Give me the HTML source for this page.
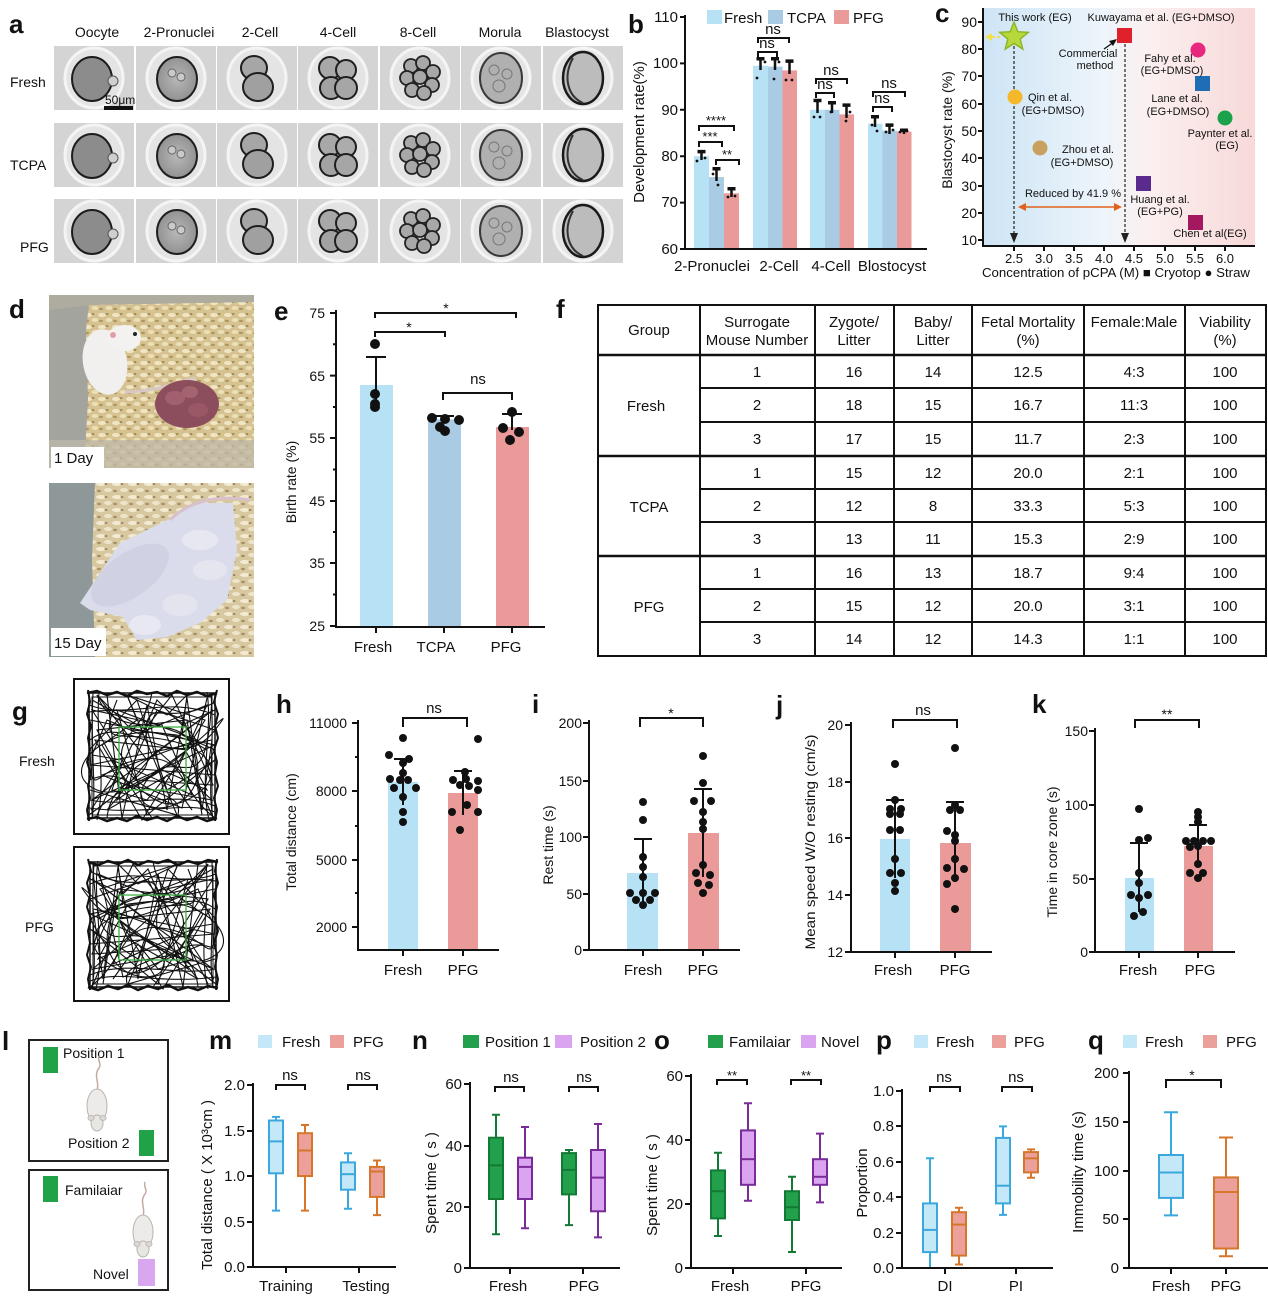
<!DOCTYPE html>
<html><head><meta charset="utf-8">
<style>
html,body{margin:0;padding:0;background:#fff;}
svg{display:block;}
text{font-family:"Liberation Sans",Arial,sans-serif;fill:#111;}
.L{font-weight:bold;font-size:26px;}
.s14{font-size:14px;}
.s15{font-size:15px;}
.s13{font-size:13px;}
.s11{font-size:11px;fill:#333;}
.tb{font-size:15px;fill:#222;}
.ax{stroke:#111;stroke-width:2;fill:none;}
.br{stroke:#111;stroke-width:2;fill:none;}
</style></head><body>
<svg width="1268" height="1297" viewBox="0 0 1268 1297" xmlns="http://www.w3.org/2000/svg" xmlns:xlink="http://www.w3.org/1999/xlink">
<defs>
 <linearGradient id="cbg" x1="0" y1="0" x2="1" y2="0">
  <stop offset="0" stop-color="#cde4f5"/>
  <stop offset="0.45" stop-color="#eef5fb"/>
  <stop offset="0.6" stop-color="#fbf0f0"/>
  <stop offset="1" stop-color="#f8d9d9"/>
 </linearGradient>
 <radialGradient id="cellg" cx="0.5" cy="0.5" r="0.5">
  <stop offset="0" stop-color="#b8b8b8"/>
  <stop offset="1" stop-color="#929292"/>
 </radialGradient>
 <pattern id="shav" width="14" height="12" patternUnits="userSpaceOnUse">
  <rect width="14" height="12" fill="#d6c290"/>
  <ellipse cx="4" cy="3" rx="4" ry="2" fill="#f0e6c4"/>
  <ellipse cx="11" cy="8" rx="3.5" ry="2" fill="#ebdfb6"/>
  <ellipse cx="9" cy="2" rx="1.5" ry="1" fill="#a08a58"/>
  <ellipse cx="3" cy="9" rx="2" ry="1.2" fill="#ae9660"/>
 </pattern>
 <pattern id="shav2" width="16" height="13" patternUnits="userSpaceOnUse">
  <rect width="16" height="13" fill="#d8c8a0"/>
  <ellipse cx="5" cy="3" rx="5" ry="2" fill="#f3ead2"/>
  <ellipse cx="12" cy="9" rx="4" ry="2" fill="#eee4ca"/>
  <ellipse cx="10" cy="3" rx="1.5" ry="1" fill="#9a8660"/>
  <ellipse cx="3" cy="10" rx="2" ry="1.2" fill="#a89068"/>
 </pattern>
 <g id="tile"><rect width="80" height="64" fill="#d4d4d4"/><ellipse cx="40" cy="32" rx="29" ry="30" fill="#e4e4e4" stroke="#f4f4f4" stroke-width="3"/></g>
 <g id="e_oo"><use href="#tile"/><ellipse cx="38" cy="33" rx="20" ry="22" fill="#8c8c8c" stroke="#1c1c1c" stroke-width="2"/><circle cx="59" cy="35" r="5" fill="#cfcfcf" stroke="#555"/></g>
 <g id="e_pn"><use href="#tile"/><ellipse cx="41" cy="33" rx="20" ry="22" fill="url(#cellg)" stroke="#1e1e1e" stroke-width="2"/><circle cx="36" cy="27" r="4" fill="#cacaca" stroke="#666"/><circle cx="45" cy="31" r="4" fill="#cacaca" stroke="#666"/></g>
 <g id="e_2c"><use href="#tile"/><ellipse cx="37" cy="22" rx="13" ry="12" fill="#a6a6a6" stroke="#1e1e1e" stroke-width="2"/><ellipse cx="41" cy="41" rx="15" ry="14" fill="#a0a0a0" stroke="#1e1e1e" stroke-width="2"/></g>
 <g id="e_4c"><use href="#tile"/><circle cx="32" cy="22" r="11" fill="#a8a8a8" stroke="#1e1e1e" stroke-width="2"/><circle cx="48" cy="24" r="10" fill="#acacac" stroke="#1e1e1e" stroke-width="2"/><circle cx="33" cy="42" r="11" fill="#a2a2a2" stroke="#1e1e1e" stroke-width="2"/><circle cx="48" cy="42" r="11" fill="#a6a6a6" stroke="#1e1e1e" stroke-width="2"/></g>
 <g id="e_8c"><use href="#tile"/><circle cx="31" cy="20" r="7" fill="#a8a8a8" stroke="#222" stroke-width="1.8"/><circle cx="43" cy="17" r="7" fill="#a8a8a8" stroke="#222" stroke-width="1.8"/><circle cx="53" cy="26" r="7" fill="#a8a8a8" stroke="#222" stroke-width="1.8"/><circle cx="27" cy="32" r="7" fill="#a8a8a8" stroke="#222" stroke-width="1.8"/><circle cx="40" cy="31" r="7" fill="#a8a8a8" stroke="#222" stroke-width="1.8"/><circle cx="52" cy="39" r="7" fill="#a8a8a8" stroke="#222" stroke-width="1.8"/><circle cx="32" cy="44" r="7" fill="#a8a8a8" stroke="#222" stroke-width="1.8"/><circle cx="44" cy="47" r="7" fill="#a8a8a8" stroke="#222" stroke-width="1.8"/></g>
 <g id="e_mo"><use href="#tile"/><ellipse cx="40" cy="32" rx="21" ry="25" fill="#b0b0b0" stroke="#3a3a3a" stroke-width="2"/><circle cx="33" cy="24" r="5" fill="none" stroke="#777"/><circle cx="46" cy="28" r="5" fill="none" stroke="#777"/><circle cx="38" cy="40" r="6" fill="none" stroke="#777"/></g>
 <g id="e_bl"><use href="#tile"/><ellipse cx="40" cy="32" rx="20" ry="26" fill="#bcbcbc" stroke="#1a1a1a" stroke-width="2.5"/><path d="M30,12 C20,30 24,50 40,57" fill="none" stroke="#333" stroke-width="2"/></g>
 <g id="trk" fill="none" stroke="#111" stroke-width="1.1">
  <path d="M5,10 L60,40 L120,15 L90,80 L20,120 L70,60 L125,110 L40,95 L10,40 L100,30 L115,125"/>
  <path d="M2,60 L50,10 L80,100 L128,70 L60,125 L30,20 L110,50 L15,85 L95,118 L120,8"/>
  <path d="M10,125 L45,55 L85,5 L126,95 L50,90 L5,20 L75,35 L105,105 L25,70 L65,128"/>
  <path d="M128,40 L70,20 L30,110 L100,60 L8,50 L55,130 L118,30 L40,5 L90,125 L3,100"/>
  <path d="M20,5 L35,128 L60,15 L80,120 L100,8 L115,120 L125,50 L3,75 L128,85"/>
  <path d="M3,30 L128,55 L5,110 L126,20 L60,70 L10,5 L45,40 L90,45 L120,100 L75,80 L35,100 L2,125"/>
  <path d="M3,50 C40,20 90,90 128,40 S60,120 10,100 S40,10 120,60"/>
  <path d="M10,5 C30,60 100,10 110,70 S30,130 60,90 S120,125 125,5"/>
  <path d="M2,90 C50,70 60,130 100,110 S130,60 80,50 S10,60 30,10"/>
  <path d="M20,128 C25,80 70,100 60,50 S110,20 125,90"/>
  <path d="M128,128 C90,100 100,60 50,70 S5,130 2,20"/>
  <path d="M65,2 C60,40 20,50 40,80 S100,100 90,128"/>
  <path d="M4,120 L30,80 L15,55 L50,30 L40,5 L80,25 L100,5 L95,45 L128,60 L110,90 L126,128"/>
  <path d="M128,20 L95,35 L70,10 L55,45 L20,30 L5,65 L35,70 L25,100 L60,110 L80,85 L105,120"/>
  <path d="M2,15 C40,30 80,5 128,25 M2,22 C50,15 90,35 128,12 M3,110 C40,118 90,100 128,116 M2,118 C60,126 100,110 128,122"/>
  <path d="M12,2 C8,50 20,90 10,130 M120,2 C126,40 112,90 122,130 M6,3 C3,60 10,100 5,128 M124,4 C128,60 120,100 126,128"/>
  <path d="M0,3 L10,1 L20,5 L30,2 L40,6 L50,1 L60,4 L70,2 L80,6 L90,1 L100,5 L110,2 L120,6 L130,3" stroke-width="2.5"/>
  <path d="M0,129 L10,127 L20,131 L30,128 L40,131 L50,126 L60,130 L70,127 L80,131 L90,126 L100,130 L110,127 L120,131 L130,128" stroke-width="2.5"/>
  <path d="M1,0 L3,12 L0,24 L4,36 L1,48 L3,60 L0,72 L4,84 L1,96 L3,108 L0,120 L2,131" stroke-width="2"/>
  <path d="M130,0 L127,12 L131,24 L128,36 L131,48 L127,60 L130,72 L128,84 L131,96 L127,108 L130,120 L128,131" stroke-width="2"/>
  <rect x="2" y="3" width="126" height="125" stroke-width="1.5"/>
  <rect x="5" y="7" width="120" height="118" stroke-width="1"/>
 </g>
 <g id="mouse">
  <path d="M0,-16 C3,-24 -4,-30 2,-38 C5,-42 0,-46 2,-50" fill="none" stroke="#c4aaa4" stroke-width="1.5"/>
  <ellipse cx="0" cy="0" rx="10" ry="17" fill="#ecebe9" stroke="#b8b4ae"/>
  <ellipse cx="0" cy="17" rx="6" ry="8" fill="#e8e6e3" stroke="#b8b4ae"/>
  <ellipse cx="-6" cy="12" rx="3" ry="2.5" fill="#e2d6d2" stroke="#bbb"/>
  <ellipse cx="6" cy="12" rx="3" ry="2.5" fill="#e2d6d2" stroke="#bbb"/>
 </g>
</defs>

<!-- ============ Panel a ============ -->
<text x="9" y="33" class="L">a</text>
<g class="s14" text-anchor="middle">
 <text x="97" y="37">Oocyte</text><text x="179" y="37">2-Pronuclei</text><text x="260" y="37">2-Cell</text>
 <text x="338" y="37">4-Cell</text><text x="418" y="37">8-Cell</text><text x="500" y="37">Morula</text><text x="577" y="37">Blastocyst</text>
</g>
<text x="10" y="87" class="s14">Fresh</text>
<text x="10" y="170" class="s14">TCPA</text>
<text x="20" y="252" class="s14">PFG</text>
<g>
 <use href="#e_oo" x="54" y="46"/><use href="#e_pn" x="136" y="46"/><use href="#e_2c" x="217" y="46"/><use href="#e_4c" x="298" y="46"/><use href="#e_8c" x="380" y="46"/><use href="#e_mo" x="461" y="46"/><use href="#e_bl" x="543" y="46"/>
 <use href="#e_oo" x="54" y="123"/><use href="#e_pn" x="136" y="123"/><use href="#e_2c" x="217" y="123"/><use href="#e_4c" x="298" y="123"/><use href="#e_8c" x="380" y="123"/><use href="#e_mo" x="461" y="123"/><use href="#e_bl" x="543" y="123"/>
 <use href="#e_oo" x="54" y="199"/><use href="#e_pn" x="136" y="199"/><use href="#e_2c" x="217" y="199"/><use href="#e_4c" x="298" y="199"/><use href="#e_8c" x="380" y="199"/><use href="#e_mo" x="461" y="199"/><use href="#e_bl" x="543" y="199"/>
</g>
<rect x="104" y="106" width="29" height="4" fill="#111"/>
<text x="105" y="104" font-size="12">50μm</text>

<!-- ============ Panel b ============ -->
<text x="628" y="33" class="L">b</text>
<rect x="707" y="10" width="15" height="14" fill="#b7e1f5"/><text x="724" y="23" class="s15">Fresh</text>
<rect x="768" y="10" width="15" height="14" fill="#a9cbe4"/><text x="787" y="23" class="s15">TCPA</text>
<rect x="834" y="10" width="15" height="14" fill="#eb9a9a"/><text x="853" y="23" class="s15">PFG</text>
<g>
 <rect x="694" y="156.2" width="15" height="92.8" fill="#b7e1f5"/>
 <rect x="709" y="177.1" width="15" height="71.9" fill="#a9cbe4"/>
 <rect x="724" y="193.3" width="15" height="55.7" fill="#eb9a9a"/>
 <rect x="753" y="65.7" width="15" height="183.3" fill="#b7e1f5"/>
 <rect x="768" y="66.6" width="14.5" height="182.4" fill="#a9cbe4"/>
 <rect x="782.5" y="70.4" width="14.5" height="178.6" fill="#eb9a9a"/>
 <rect x="810" y="109.8" width="15" height="139.2" fill="#b7e1f5"/>
 <rect x="825" y="109.8" width="14.5" height="139.2" fill="#a9cbe4"/>
 <rect x="839.5" y="114.4" width="14.5" height="134.6" fill="#eb9a9a"/>
 <rect x="868" y="123.7" width="14.5" height="125.3" fill="#b7e1f5"/>
 <rect x="882.5" y="130.7" width="14.5" height="118.3" fill="#a9cbe4"/>
 <rect x="897" y="131.6" width="14.5" height="117.4" fill="#eb9a9a"/>
</g>
<g stroke="#111" fill="none">
 <path d="M701.5,160V151.6M716.5,181V168.7M731.5,197V188.7M760.5,70V58.8M775,70V58.8M789.5,74V61.1M817.5,113V100.5M832,113V102.8M846.5,118V105.1M875,127V116.7M889.5,134V125.1M904,134V130.2" stroke-width="2.5"/>
 <path d="M697.5,151.6h8M712.5,168.7h8M727.5,188.7h8M756.5,58.8h8M771,58.8h8M785.5,61.1h8M813.5,100.5h8M828,102.8h8M842.5,105.1h8M871,116.7h8M885.5,125.1h8M900,130.2h8" stroke-width="3.5"/>
</g>
<g fill="#111">
 <circle cx="697" cy="161" r="1.4"/><circle cx="705" cy="158" r="1.4"/><circle cx="713" cy="174" r="1.4"/><circle cx="718" cy="185" r="1.4"/><circle cx="728" cy="197" r="1.4"/><circle cx="735" cy="196" r="1.4"/>
 <circle cx="757" cy="78" r="1.4"/><circle cx="765" cy="62" r="1.4"/><circle cx="774" cy="79" r="1.4"/><circle cx="779" cy="62" r="1.4"/><circle cx="786" cy="80" r="1.4"/><circle cx="792" cy="80" r="1.4"/>
 <circle cx="814" cy="117" r="1.4"/><circle cx="820" cy="117" r="1.4"/><circle cx="831" cy="112" r="1.4"/><circle cx="846" cy="121" r="1.4"/><circle cx="850" cy="112" r="1.4"/>
 <circle cx="872" cy="125" r="1.4"/><circle cx="877" cy="131" r="1.4"/><circle cx="886" cy="132" r="1.4"/><circle cx="893" cy="130" r="1.4"/><circle cx="900" cy="132" r="1.4"/><circle cx="907" cy="131" r="1.4"/>
</g>
<g class="br">
 <path d="M699,131V126H734V131"/><path d="M699,147V142H722V147"/><path d="M716,165V160H739V165"/>
 <path d="M758,43V38H789V43"/><path d="M758,57V52H777V57"/>
 <path d="M816,84V79H847V84"/><path d="M816,98V93H834V98"/>
 <path d="M873,97V92H905V97"/><path d="M873,112V107H892V112"/>
</g>
<g class="s13" text-anchor="middle">
 <text x="716" y="125">****</text><text x="710" y="141">***</text><text x="727" y="159">**</text>
</g>
<g class="s15" text-anchor="middle">
 <text x="773" y="34">ns</text><text x="767" y="48">ns</text>
 <text x="831" y="75">ns</text><text x="825" y="89">ns</text>
 <text x="889" y="88">ns</text><text x="882" y="103">ns</text>
</g>
<path class="ax" d="M685,15V249H927"/>
<path class="ax" d="M680,17H685M680,63.4H685M680,109.8H685M680,156.2H685M680,202.6H685M680,249H685"/>
<g class="s15" text-anchor="end">
 <text x="678" y="22">110</text><text x="678" y="68">100</text><text x="678" y="115">90</text><text x="678" y="161">80</text><text x="678" y="207">70</text><text x="678" y="254">60</text>
</g>
<g class="s15" text-anchor="middle">
 <text x="712" y="271">2-Pronuclei</text><text x="779" y="271">2-Cell</text><text x="831" y="271">4-Cell</text><text x="892" y="271">Blostocyst</text>
</g>
<text transform="translate(644,132) rotate(-90)" class="s15" text-anchor="middle">Development rate(%)</text>

<!-- ============ Panel c ============ -->
<text x="935" y="22" class="L">c</text>
<rect x="983" y="8" width="272" height="238" fill="url(#cbg)"/>
<path class="ax" d="M983,8V246H1255"/>
<path class="ax" stroke-width="1.5" d="M978,22H983M978,49H983M978,76H983M978,104H983M978,131H983M978,158H983M978,186H983M978,213H983M978,240H983"/>
<path class="ax" stroke-width="1.5" d="M1014,246V251M1044,246V251M1074,246V251M1104,246V251M1134,246V251M1165,246V251M1195,246V251M1225,246V251"/>
<g class="s14" text-anchor="end">
 <text x="977" y="27">90</text><text x="977" y="54">80</text><text x="977" y="81">70</text><text x="977" y="109">60</text><text x="977" y="136">50</text><text x="977" y="163">40</text><text x="977" y="191">30</text><text x="977" y="218">20</text><text x="977" y="245">10</text>
</g>
<g class="s13" text-anchor="middle">
 <text x="1014" y="263">2.5</text><text x="1044" y="263">3.0</text><text x="1074" y="263">3.5</text><text x="1104" y="263">4.0</text><text x="1134" y="263">4.5</text><text x="1165" y="263">5.0</text><text x="1195" y="263">5.5</text><text x="1225" y="263">6.0</text>
</g>
<text x="982" y="277" class="s13" textLength="268" lengthAdjust="spacingAndGlyphs">Concentration of pCPA (M) ■ Cryotop ● Straw</text>
<text transform="translate(952,130) rotate(-90)" class="s14" text-anchor="middle">Blastocyst rate (%)</text>
<g stroke="#222" stroke-width="1.2" stroke-dasharray="3,2" fill="none">
 <path d="M1014,46V236"/><path d="M1125,44V236"/>
</g>
<polygon points="1010,233 1018,233 1014,243" fill="#222"/>
<polygon points="1121,233 1129,233 1125,243" fill="#222"/>
<path d="M1000,37H990" stroke="#f0e050" stroke-width="2" stroke-dasharray="3,2"/>
<polygon points="985,37 992,33 992,41" fill="#f0e050"/>
<polygon points="1014,22 1017.8,31.7 1028.3,32.4 1020.2,39 1022.8,49.1 1014,43.5 1005.2,49.1 1007.8,39 999.7,32.4 1010.2,31.7" fill="#b7d83a" stroke="#8db52a" stroke-width="1.5"/>
<rect x="1117" y="28" width="15" height="15" fill="#e0202a"/>
<path d="M1104,49L1114,42" stroke="#111" stroke-width="1.3"/><polygon points="1117,39 1109,41 1113,46" fill="#111"/>
<circle cx="1198" cy="50" r="7.5" fill="#e8277f"/>
<rect x="1195" y="76" width="15" height="15" fill="#1f6db5"/>
<circle cx="1225" cy="118" r="7.5" fill="#1aa34a"/>
<circle cx="1015" cy="97" r="7.5" fill="#f5b82a"/>
<circle cx="1040" cy="148" r="7.5" fill="#c8a060"/>
<rect x="1136" y="176" width="15" height="15" fill="#5b2a8f"/>
<rect x="1188" y="215" width="15" height="15" fill="#a3185f"/>
<path d="M1024,207H1116" stroke="#e0621c" stroke-width="1.6"/>
<polygon points="1018,207 1026,203 1026,211" fill="#e0621c"/><polygon points="1122,207 1114,203 1114,211" fill="#e0621c"/>
<g class="s11" text-anchor="middle">
 <text x="1035" y="21">This work (EG)</text>
 <text x="1161" y="21">Kuwayama et al. (EG+DMSO)</text>
 <text x="1088" y="57">Commercial</text><text x="1095" y="69">method</text>
 <text x="1170" y="62">Fahy et al.</text><text x="1172" y="74">(EG+DMSO)</text>
 <text x="1177" y="102">Lane et al.</text><text x="1178" y="115">(EG+DMSO)</text>
 <text x="1220" y="137">Paynter et al.</text><text x="1227" y="149">(EG)</text>
 <text x="1050" y="101">Qin et al.</text><text x="1053" y="114">(EG+DMSO)</text>
 <text x="1088" y="153">Zhou et al.</text><text x="1082" y="166">(EG+DMSO)</text>
 <text x="1160" y="203">Huang et al.</text><text x="1160" y="215">(EG+PG)</text>
 <text x="1210" y="237">Chen et al(EG)</text>
 <text x="1073" y="197">Reduced by 41.9 %</text>
</g>

<!-- ============ Panel d ============ -->
<text x="9" y="318" class="L">d</text>
<g>
 <rect x="49" y="295" width="205" height="173" fill="url(#shav)"/>
 <polygon points="49,295 90,295 86,330 88,400 84,468 49,468" fill="#a3a49e"/>
 <rect x="49" y="440" width="205" height="28" fill="#bdb8a8" opacity="0.75"/>
 <polygon points="49,295 254,295 254,302 90,305 49,310" fill="#aeab9f"/>
 <ellipse cx="105" cy="362" rx="22" ry="33" fill="#f1f0ee" transform="rotate(-10 105 362)"/>
 <ellipse cx="124" cy="338" rx="17" ry="13" fill="#f3f2f0"/>
 <circle cx="113" cy="335" r="3" fill="#e0a0a8"/><circle cx="135" cy="334" r="2" fill="#222"/>
 <path d="M125,392 C150,392 170,385 195,378" stroke="#d8c8c8" stroke-width="3" fill="none"/>
 <ellipse cx="187" cy="404" rx="32" ry="24" fill="#8c4e5c"/>
 <ellipse cx="175" cy="398" rx="10" ry="7" fill="#a2606e"/><ellipse cx="198" cy="410" rx="10" ry="7" fill="#9a5866"/><ellipse cx="190" cy="392" rx="8" ry="6" fill="#a4646f"/>
</g>
<g>
 <rect x="49" y="483" width="205" height="174" fill="url(#shav2)"/>
 <polygon points="49,483 95,483 92,560 95,657 49,657" fill="#8e9898"/>
 <polygon points="80,603 120,543 167,520 197,503 233,503 237,550 227,600 200,623 167,637 137,640 123,617 90,610" fill="#dadcec"/>
 <ellipse cx="130" cy="575" rx="45" ry="22" fill="#d0d2e4" transform="rotate(-35 130 575)"/>
 <ellipse cx="200" cy="540" rx="18" ry="10" fill="#e6e7f1"/><ellipse cx="210" cy="570" rx="17" ry="10" fill="#e4e5ef"/><ellipse cx="180" cy="605" rx="18" ry="11" fill="#e3e4ee"/><ellipse cx="145" cy="625" rx="16" ry="10" fill="#e7e8f1"/>
 <path d="M170,520 C190,500 220,495 250,500" stroke="#d8c0cc" stroke-width="3" fill="none"/>
</g>
<rect x="51" y="447" width="53" height="21" fill="#fff"/>
<text x="54" y="463" class="s15">1 Day</text>
<rect x="51" y="628" width="55" height="28" fill="#fff"/>
<text x="54" y="648" class="s15">15 Day</text>

<!-- ============ Panel e ============ -->
<text x="274" y="320" class="L">e</text>
<rect x="360" y="385" width="33" height="241" fill="#b7e1f5"/>
<rect x="428" y="419.4" width="33" height="206.6" fill="#a9cbe4"/>
<rect x="496" y="427" width="33" height="199" fill="#eb9a9a"/>
<g class="br">
 <path d="M376,400V357M366,357H386"/>
 <path d="M444,422V416M434,416H454"/>
 <path d="M512,430V414M502,414H522"/>
 <path d="M375,318V313H516V318"/><path d="M375,337V332H445V337"/><path d="M443,400V393H512V400"/>
</g>
<g fill="#111">
 <circle cx="375" cy="344" r="5"/><circle cx="375" cy="394" r="5"/><circle cx="375" cy="404" r="5"/><circle cx="375" cy="407" r="5"/>
 <circle cx="432" cy="418" r="5"/><circle cx="445" cy="419" r="5"/><circle cx="459" cy="420" r="5"/><circle cx="440" cy="427" r="5"/><circle cx="445" cy="431" r="5"/>
 <circle cx="512" cy="412" r="5"/><circle cx="503" cy="428" r="5"/><circle cx="519" cy="432" r="5"/><circle cx="510" cy="440" r="5"/>
</g>
<text x="446" y="313" class="s14" text-anchor="middle">*</text>
<text x="409" y="332" class="s14" text-anchor="middle">*</text>
<text x="478" y="384" class="s15" text-anchor="middle">ns</text>
<path class="ax" d="M336,310V627H545"/>
<path class="ax" d="M330,313H336M330,375.6H336M330,438H336M330,501H336M330,563H336M330,626H336M333,344.3H336M333,407H336M333,469.5H336M333,532H336M333,594.5H336M376,627V633M444,627V633M512,627V633"/>
<g class="s14" text-anchor="end">
 <text x="325" y="318">75</text><text x="325" y="381">65</text><text x="325" y="443">55</text><text x="325" y="506">45</text><text x="325" y="568">35</text><text x="325" y="631">25</text>
</g>
<g class="s15" text-anchor="middle"><text x="373" y="652">Fresh</text><text x="436" y="652">TCPA</text><text x="506" y="652">PFG</text></g>
<text transform="translate(296,482) rotate(-90)" class="s14" text-anchor="middle">Birth rate (%)</text>

<!-- ============ Panel f ============ -->
<text x="556" y="318" class="L">f</text>
<g stroke="#111" fill="none">
 <rect x="598" y="305" width="668" height="351" stroke-width="2"/>
 <path d="M598,355H1266M598,456H1266M598,556H1266" stroke-width="2.5"/>
 <path d="M700,388H1266M700,422H1266M700,489H1266M700,522H1266M700,589H1266M700,622H1266" stroke-width="2"/>
 <path d="M700,305V656M815,305V656M894,305V656M972,305V656M1084,305V656M1185,305V656" stroke-width="2"/>
</g>
<g class="tb" text-anchor="middle">
 <text x="649" y="335">Group</text>
 <text x="757" y="327">Surrogate</text><text x="757" y="345">Mouse Number</text>
 <text x="854" y="327">Zygote/</text><text x="854" y="345">Litter</text>
 <text x="933" y="327">Baby/</text><text x="933" y="345">Litter</text>
 <text x="1028" y="327">Fetal Mortality</text><text x="1028" y="345">(%)</text>
 <text x="1134" y="327">Female:Male</text>
 <text x="1225" y="327">Viability</text><text x="1225" y="345">(%)</text>
 <text x="646" y="411">Fresh</text><text x="649" y="512">TCPA</text><text x="649" y="612">PFG</text>
 <text x="757" y="377">1</text><text x="854" y="377">16</text><text x="933" y="377">14</text><text x="1028" y="377">12.5</text><text x="1134" y="377">4:3</text><text x="1225" y="377">100</text>
 <text x="757" y="410">2</text><text x="854" y="410">18</text><text x="933" y="410">15</text><text x="1028" y="410">16.7</text><text x="1134" y="410">11:3</text><text x="1225" y="410">100</text>
 <text x="757" y="444">3</text><text x="854" y="444">17</text><text x="933" y="444">15</text><text x="1028" y="444">11.7</text><text x="1134" y="444">2:3</text><text x="1225" y="444">100</text>
 <text x="757" y="478">1</text><text x="854" y="478">15</text><text x="933" y="478">12</text><text x="1028" y="478">20.0</text><text x="1134" y="478">2:1</text><text x="1225" y="478">100</text>
 <text x="757" y="511">2</text><text x="854" y="511">12</text><text x="933" y="511">8</text><text x="1028" y="511">33.3</text><text x="1134" y="511">5:3</text><text x="1225" y="511">100</text>
 <text x="757" y="544">3</text><text x="854" y="544">13</text><text x="933" y="544">11</text><text x="1028" y="544">15.3</text><text x="1134" y="544">2:9</text><text x="1225" y="544">100</text>
 <text x="757" y="578">1</text><text x="854" y="578">16</text><text x="933" y="578">13</text><text x="1028" y="578">18.7</text><text x="1134" y="578">9:4</text><text x="1225" y="578">100</text>
 <text x="757" y="611">2</text><text x="854" y="611">15</text><text x="933" y="611">12</text><text x="1028" y="611">20.0</text><text x="1134" y="611">3:1</text><text x="1225" y="611">100</text>
 <text x="757" y="644">3</text><text x="854" y="644">14</text><text x="933" y="644">12</text><text x="1028" y="644">14.3</text><text x="1134" y="644">1:1</text><text x="1225" y="644">100</text>
</g>

<!-- ============ Panel g ============ -->
<text x="12" y="720" class="L">g</text>
<rect x="74" y="679" width="155" height="155" fill="#fff" stroke="#111" stroke-width="2"/>
<rect x="74" y="847" width="155" height="154" fill="#fff" stroke="#111" stroke-width="2"/>
<use href="#trk" transform="translate(87,690)"/>
<use href="#trk" transform="translate(218,859) scale(-1,1)"/>
<rect x="119" y="727" width="67" height="63" fill="none" stroke="#3cb043" stroke-width="1.3"/>
<rect x="119" y="895" width="67" height="65" fill="none" stroke="#3cb043" stroke-width="1.3"/>
<text x="19" y="766" class="s14">Fresh</text>
<text x="25" y="932" class="s14">PFG</text>

<!-- ============ Panel h ============ -->
<text x="276" y="713" class="L">h</text>
<rect x="388" y="782" width="30" height="168" fill="#b7e1f5"/>
<rect x="448" y="793" width="30" height="157" fill="#eb9a9a"/>
<g class="br"><path d="M403,805V759M394,759H412"/><path d="M463,815V771M454,771H472"/><path d="M403,727V718H467V727"/></g>
<g fill="#111">
 <circle cx="403" cy="738" r="4"/><circle cx="389" cy="755" r="4"/><circle cx="409" cy="759" r="4"/><circle cx="403" cy="763" r="4"/><circle cx="403" cy="773" r="4"/><circle cx="390" cy="779" r="4"/><circle cx="400" cy="780" r="4"/><circle cx="408" cy="780" r="4"/><circle cx="416" cy="788" r="4"/><circle cx="394" cy="788" r="4"/><circle cx="403" cy="797" r="4"/><circle cx="403" cy="812" r="4"/><circle cx="403" cy="822" r="4"/>
 <circle cx="478" cy="739" r="4"/><circle cx="465" cy="772" r="4"/><circle cx="453" cy="780" r="4"/><circle cx="466" cy="779" r="4"/><circle cx="478" cy="781" r="4"/><circle cx="460" cy="785" r="4"/><circle cx="469" cy="786" r="4"/><circle cx="478" cy="790" r="4"/><circle cx="467" cy="805" r="4"/><circle cx="452" cy="812" r="4"/><circle cx="478" cy="812" r="4"/><circle cx="460" cy="830" r="4"/>
</g>
<text x="434" y="713" class="s15" text-anchor="middle">ns</text>
<path class="ax" d="M358,720V950H499"/>
<path class="ax" d="M352,723H358M352,791H358M352,860H358M352,927H358M355,757H358M355,826H358M355,893H358M403,950V956M463,950V956"/>
<g class="s14" text-anchor="end"><text x="347" y="728">11000</text><text x="347" y="796">8000</text><text x="347" y="865">5000</text><text x="347" y="932">2000</text></g>
<g class="s15" text-anchor="middle"><text x="403" y="975">Fresh</text><text x="463" y="975">PFG</text></g>
<text transform="translate(296,832) rotate(-90)" class="s14" text-anchor="middle">Total distance (cm)</text>

<!-- ============ Panel i ============ -->
<text x="532" y="713" class="L">i</text>
<rect x="627" y="873" width="31" height="77" fill="#b7e1f5"/>
<rect x="688" y="833" width="31" height="117" fill="#eb9a9a"/>
<g class="br"><path d="M643,905V839M634,839H652"/><path d="M703,877V789M694,789H712"/><path d="M640,727V718H703V727"/></g>
<g fill="#111">
 <circle cx="643" cy="802" r="4"/><circle cx="643" cy="820" r="4"/><circle cx="643" cy="857" r="4"/><circle cx="643" cy="867" r="4"/><circle cx="643" cy="877" r="4"/><circle cx="630" cy="893" r="4"/><circle cx="643" cy="893" r="4"/><circle cx="655" cy="893" r="4"/><circle cx="636" cy="900" r="4"/><circle cx="650" cy="900" r="4"/><circle cx="643" cy="905" r="4"/>
 <circle cx="703" cy="756" r="4"/><circle cx="703" cy="783" r="4"/><circle cx="694" cy="801" r="4"/><circle cx="711" cy="801" r="4"/><circle cx="703" cy="812" r="4"/><circle cx="703" cy="822" r="4"/><circle cx="703" cy="829" r="4"/><circle cx="703" cy="865" r="4"/><circle cx="696" cy="873" r="4"/><circle cx="710" cy="875" r="4"/><circle cx="698" cy="883" r="4"/><circle cx="709" cy="885" r="4"/><circle cx="703" cy="893" r="4"/>
</g>
<text x="671" y="718" class="s14" text-anchor="middle">*</text>
<path class="ax" d="M589,720V950H740"/>
<path class="ax" d="M583,723H589M583,781H589M583,837H589M583,894H589M583,950H589M643,950V956M703,950V956"/>
<g class="s14" text-anchor="end"><text x="582" y="728">200</text><text x="582" y="786">150</text><text x="582" y="842">100</text><text x="582" y="899">50</text><text x="582" y="955">0</text></g>
<g class="s15" text-anchor="middle"><text x="643" y="975">Fresh</text><text x="703" y="975">PFG</text></g>
<text transform="translate(553,845) rotate(-90)" class="s14" text-anchor="middle">Rest time (s)</text>

<!-- ============ Panel j ============ -->
<text x="776" y="714" class="L">j</text>
<rect x="880" y="839" width="30" height="113" fill="#b7e1f5"/>
<rect x="940" y="843" width="31" height="109" fill="#eb9a9a"/>
<g class="br"><path d="M895,878V800M886,800H904"/><path d="M955,882V802M946,802H964"/><path d="M893,728V720H957V728"/></g>
<g fill="#111">
 <circle cx="895" cy="764" r="4"/><circle cx="895" cy="800" r="4"/><circle cx="890" cy="809" r="4"/><circle cx="901" cy="809" r="4"/><circle cx="890" cy="814" r="4"/><circle cx="900" cy="814" r="4"/><circle cx="890" cy="830" r="4"/><circle cx="900" cy="830" r="4"/><circle cx="895" cy="859" r="4"/><circle cx="890" cy="873" r="4"/><circle cx="901" cy="873" r="4"/><circle cx="895" cy="883" r="4"/><circle cx="895" cy="891" r="4"/>
 <circle cx="955" cy="748" r="4"/><circle cx="955" cy="805" r="4"/><circle cx="950" cy="810" r="4"/><circle cx="960" cy="810" r="4"/><circle cx="947" cy="831" r="4"/><circle cx="955" cy="835" r="4"/><circle cx="955" cy="841" r="4"/><circle cx="947" cy="868" r="4"/><circle cx="955" cy="859" r="4"/><circle cx="964" cy="869" r="4"/><circle cx="955" cy="878" r="4"/><circle cx="947" cy="884" r="4"/><circle cx="955" cy="909" r="4"/>
</g>
<text x="923" y="715" class="s15" text-anchor="middle">ns</text>
<path class="ax" d="M851,722V952H992"/>
<path class="ax" d="M845,725H851M845,782H851M845,838H851M845,895H851M845,952H851M895,952V958M955,952V958"/>
<g class="s14" text-anchor="end"><text x="843" y="730">20</text><text x="843" y="787">18</text><text x="843" y="843">16</text><text x="843" y="900">14</text><text x="843" y="957">12</text></g>
<g class="s15" text-anchor="middle"><text x="893" y="975">Fresh</text><text x="955" y="975">PFG</text></g>
<text transform="translate(815,842) rotate(-90)" class="s14" text-anchor="middle" textLength="215" lengthAdjust="spacingAndGlyphs">Mean speed W/O resting (cm/s)</text>

<!-- ============ Panel k ============ -->
<text x="1032" y="713" class="L">k</text>
<rect x="1125" y="878" width="29" height="74" fill="#b7e1f5"/>
<rect x="1184" y="846" width="29" height="106" fill="#eb9a9a"/>
<g class="br"><path d="M1139,912V843M1130,843H1148"/><path d="M1198,866V825M1189,825H1207"/><path d="M1135,728V720H1199V728"/></g>
<g fill="#111">
 <circle cx="1139" cy="809" r="4"/><circle cx="1148" cy="838" r="4"/><circle cx="1139" cy="840" r="4"/><circle cx="1139" cy="873" r="4"/><circle cx="1139" cy="883" r="4"/><circle cx="1131" cy="895" r="4"/><circle cx="1148" cy="895" r="4"/><circle cx="1139" cy="898" r="4"/><circle cx="1143" cy="912" r="4"/><circle cx="1134" cy="916" r="4"/>
 <circle cx="1198" cy="812" r="4"/><circle cx="1198" cy="817" r="4"/><circle cx="1198" cy="822" r="4"/><circle cx="1186" cy="841" r="4"/><circle cx="1194" cy="841" r="4"/><circle cx="1203" cy="841" r="4"/><circle cx="1211" cy="841" r="4"/><circle cx="1190" cy="847" r="4"/><circle cx="1198" cy="846" r="4"/><circle cx="1198" cy="864" r="4"/><circle cx="1190" cy="873" r="4"/><circle cx="1203" cy="873" r="4"/><circle cx="1198" cy="878" r="4"/>
</g>
<text x="1167" y="719" class="s14" text-anchor="middle">**</text>
<path class="ax" d="M1095,728V952H1235"/>
<path class="ax" d="M1089,731H1095M1089,805H1095M1089,879H1095M1089,952H1095M1139,952V958M1198,952V958"/>
<g class="s14" text-anchor="end"><text x="1088" y="736">150</text><text x="1088" y="810">100</text><text x="1088" y="884">50</text><text x="1088" y="957">0</text></g>
<g class="s15" text-anchor="middle"><text x="1138" y="975">Fresh</text><text x="1200" y="975">PFG</text></g>
<text transform="translate(1057,852) rotate(-90)" class="s14" text-anchor="middle">Time in core zone (s)</text>

<!-- ============ Panel l ============ -->
<text x="2" y="1050" class="L">l</text>
<rect x="29" y="1040" width="139" height="121" fill="#fff" stroke="#222" stroke-width="2"/>
<rect x="29" y="1170" width="139" height="120" fill="#fff" stroke="#222" stroke-width="2"/>
<rect x="43" y="1047" width="15" height="26" fill="#21a148"/>
<rect x="139" y="1130" width="15" height="26" fill="#21a148"/>
<rect x="43" y="1176" width="15" height="26" fill="#21a148"/>
<rect x="138" y="1259" width="17" height="27" fill="#d9a6f0"/>
<text x="63" y="1058" class="s14">Position 1</text>
<text x="68" y="1148" class="s14">Position 2</text>
<text x="65" y="1195" class="s14">Familaiar</text>
<text x="93" y="1279" class="s14">Novel</text>
<use href="#mouse" transform="translate(97,1106)"/>
<use href="#mouse" transform="translate(143,1232)"/>

<!-- ============ Panel m ============ -->
<text x="209" y="1049" class="L">m</text>
<rect x="258" y="1035" width="14" height="13" fill="#c5e8f8"/><text x="282" y="1047" class="s15">Fresh</text>
<rect x="330" y="1035" width="14" height="13" fill="#eba09c"/><text x="353" y="1047" class="s15">PFG</text>
<g stroke="#3aa7dd" stroke-width="2" fill="#c5e8f8">
 <path d="M276,1210.6V1173.3M276,1120.5V1116.9M272,1210.6h8M272,1116.9h8" fill="none"/>
 <rect x="269" y="1120.5" width="14" height="52.8"/><path d="M269,1141.4h14"/>
 <path d="M348,1208.8V1189.7M348,1162.4V1153.3M344,1208.8h8M344,1153.3h8" fill="none"/>
 <rect x="341" y="1162.4" width="14" height="27.3"/><path d="M341,1174.2h14"/>
</g>
<g stroke="#d5762a" stroke-width="2" fill="#eba09c">
 <path d="M305,1210.6V1176M305,1133.2V1125M301,1210.6h8M301,1125h8" fill="none"/>
 <rect x="298" y="1133.2" width="14" height="42.8"/><path d="M298,1150.5h14"/>
 <path d="M377,1215.1V1196.9M377,1166.9V1160.5M373,1215.1h8M373,1160.5h8" fill="none"/>
 <rect x="370" y="1166.9" width="14" height="30"/><path d="M370,1171.5h14"/>
</g>
<g class="br"><path d="M276,1090V1085H305V1090"/><path d="M348,1090V1085H377V1090"/></g>
<g class="s15" text-anchor="middle"><text x="290" y="1080">ns</text><text x="363" y="1080">ns</text></g>
<path class="ax" d="M253,1083V1267H396"/>
<path class="ax" d="M247,1085H253M247,1131H253M247,1176H253M247,1222H253M247,1267H253M286,1267V1273M359,1267V1273"/>
<g class="s15" text-anchor="end"><text x="245" y="1090">2.0</text><text x="245" y="1136">1.5</text><text x="245" y="1181">1.0</text><text x="245" y="1227">0.5</text><text x="245" y="1272">0.0</text></g>
<g class="s15" text-anchor="middle"><text x="286" y="1291">Training</text><text x="366" y="1291">Testing</text></g>
<text transform="translate(212,1185) rotate(-90)" class="s15" text-anchor="middle">Total distance ( X 10³cm )</text>

<!-- ============ Panel n ============ -->
<text x="412" y="1049" class="L">n</text>
<rect x="463" y="1035" width="16" height="13" fill="#22a04b"/><text x="485" y="1047" class="s15">Position 1</text>
<rect x="555" y="1035" width="17" height="13" fill="#dba4f0"/><text x="580" y="1047" class="s15">Position 2</text>
<g stroke="#137a35" stroke-width="2" fill="#22a04b">
 <path d="M496,1234.3V1199M496,1137.7V1114.8M492,1234.3h8M492,1114.8h8" fill="none"/>
 <rect x="489" y="1137.7" width="14" height="61.3"/><path d="M489,1165.3h14"/>
 <path d="M569,1225.1V1194.4M569,1153.1V1150M565,1225.1h8M565,1150h8" fill="none"/>
 <rect x="562" y="1153.1" width="14" height="41.3"/><path d="M562,1169.9h14"/>
</g>
<g stroke="#7a2b9a" stroke-width="2" fill="#dba4f0">
 <path d="M525,1228.2V1199M525,1157.7V1127M521,1228.2h8M521,1127h8" fill="none"/>
 <rect x="518" y="1157.7" width="14" height="41.3"/><path d="M518,1166.9h14"/>
 <path d="M598,1237.4V1211.3M598,1150V1124M594,1237.4h8M594,1124h8" fill="none"/>
 <rect x="591" y="1150" width="14" height="61.3"/><path d="M591,1177.6h14"/>
</g>
<g class="br"><path d="M495,1092V1087H524V1092"/><path d="M569,1092V1087H598V1092"/></g>
<g class="s15" text-anchor="middle"><text x="511" y="1082">ns</text><text x="584" y="1082">ns</text></g>
<path class="ax" d="M470,1082V1268H620"/>
<path class="ax" d="M464,1084H470M464,1146H470M464,1207H470M464,1268H470M510,1268V1274M583,1268V1274"/>
<g class="s15" text-anchor="end"><text x="462" y="1089">60</text><text x="462" y="1151">40</text><text x="462" y="1212">20</text><text x="462" y="1273">0</text></g>
<g class="s15" text-anchor="middle"><text x="508" y="1291">Fresh</text><text x="584" y="1291">PFG</text></g>
<text transform="translate(436,1183) rotate(-90)" class="s15" text-anchor="middle">Spent time ( s )</text>

<!-- ============ Panel o ============ -->
<text x="654" y="1049" class="L">o</text>
<rect x="708" y="1035" width="15" height="13" fill="#22a04b"/><text x="729" y="1047" class="s15">Familaiar</text>
<rect x="801" y="1035" width="15" height="13" fill="#dba4f0"/><text x="821" y="1047" class="s15">Novel</text>
<g stroke="#137a35" stroke-width="2" fill="#22a04b">
 <path d="M718,1236V1218.4M718,1170.4V1152.8M714,1236h8M714,1152.8h8" fill="none"/>
 <rect x="711" y="1170.4" width="14" height="48"/><path d="M711,1191.2h14"/>
 <path d="M792,1252V1220M792,1191.2V1176.8M788,1252h8M788,1176.8h8" fill="none"/>
 <rect x="785" y="1191.2" width="14" height="28.8"/><path d="M785,1207.2h14"/>
</g>
<g stroke="#7a2b9a" stroke-width="2" fill="#dba4f0">
 <path d="M748,1200.8V1184.8M748,1130.4V1103.2M744,1200.8h8M744,1103.2h8" fill="none"/>
 <rect x="741" y="1130.4" width="14" height="54.4"/><path d="M741,1159.2h14"/>
 <path d="M820,1202.4V1184.8M820,1159.2V1133.6M816,1202.4h8M816,1133.6h8" fill="none"/>
 <rect x="813" y="1159.2" width="14" height="25.6"/><path d="M813,1176.8h14"/>
</g>
<g class="br"><path d="M717,1085V1080H747V1085"/><path d="M791,1085V1080H821V1085"/></g>
<g class="s13" text-anchor="middle"><text x="732" y="1080">**</text><text x="806" y="1080">**</text></g>
<path class="ax" d="M691,1074V1268H842"/>
<path class="ax" d="M685,1076H691M685,1140H691M685,1204H691M685,1268H691M733,1268V1274M806,1268V1274"/>
<g class="s15" text-anchor="end"><text x="683" y="1081">60</text><text x="683" y="1145">40</text><text x="683" y="1209">20</text><text x="683" y="1273">0</text></g>
<g class="s15" text-anchor="middle"><text x="730" y="1291">Fresh</text><text x="806" y="1291">PFG</text></g>
<text transform="translate(657,1185) rotate(-90)" class="s15" text-anchor="middle">Spent time ( s )</text>

<!-- ============ Panel p ============ -->
<text x="876" y="1049" class="L">p</text>
<rect x="914" y="1035" width="14" height="13" fill="#c5e8f8"/><text x="936" y="1047" class="s15">Fresh</text>
<rect x="992" y="1035" width="14" height="13" fill="#eba09c"/><text x="1014" y="1047" class="s15">PFG</text>
<g stroke="#3aa7dd" stroke-width="2" fill="#c5e8f8">
 <path d="M930,1268V1252.1M930,1203.4V1158.3M926,1158.3h8" fill="none"/>
 <rect x="923" y="1203.4" width="14" height="48.7"/><path d="M923,1229.9h14"/>
 <path d="M1003,1214.9V1203.4M1003,1137.9V1126.4M999,1214.9h8M999,1126.4h8" fill="none"/>
 <rect x="996" y="1137.9" width="14" height="65.5"/><path d="M996,1185.7h14"/>
</g>
<g stroke="#d5762a" stroke-width="2" fill="#eba09c">
 <path d="M959,1264.5V1255.6M959,1212.2V1207.8M955,1264.5h8M955,1207.8h8" fill="none"/>
 <rect x="952" y="1212.2" width="14" height="43.4"/><path d="M952,1224.6h14"/>
 <path d="M1031,1177.7V1172.4M1031,1152.1V1149.4M1027,1177.7h8M1027,1149.4h8" fill="none"/>
 <rect x="1024" y="1152.1" width="14" height="20.3"/><path d="M1024,1158.3h14"/>
</g>
<g class="br"><path d="M930,1092V1087H960V1092"/><path d="M1002,1092V1087H1032V1092"/></g>
<g class="s15" text-anchor="middle"><text x="944" y="1082">ns</text><text x="1016" y="1082">ns</text></g>
<path class="ax" d="M902,1089V1268H1053"/>
<path class="ax" d="M896,1091H902M896,1126H902M896,1162H902M896,1197H902M896,1233H902M896,1268H902M945,1268V1274M1016,1268V1274"/>
<g class="s15" text-anchor="end"><text x="894" y="1096">1.0</text><text x="894" y="1131">0.8</text><text x="894" y="1167">0.6</text><text x="894" y="1202">0.4</text><text x="894" y="1238">0.2</text><text x="894" y="1273">0.0</text></g>
<g class="s15" text-anchor="middle"><text x="945" y="1291">DI</text><text x="1016" y="1291">PI</text></g>
<text transform="translate(867,1183) rotate(-90)" class="s15" text-anchor="middle">Proportion</text>

<!-- ============ Panel q ============ -->
<text x="1088" y="1049" class="L">q</text>
<rect x="1123" y="1035" width="14" height="13" fill="#c5e8f8"/><text x="1145" y="1047" class="s15">Fresh</text>
<rect x="1203" y="1035" width="14" height="13" fill="#eba09c"/><text x="1226" y="1047" class="s15">PFG</text>
<g stroke="#3aa7dd" stroke-width="2" fill="#c5e8f8">
 <path d="M1171,1215.4V1197.9M1171,1155V1112.2M1164,1215.4h14M1164,1112.2h14" fill="none"/>
 <rect x="1159" y="1155" width="24" height="42.9"/><path d="M1159,1172.5h24"/>
</g>
<g stroke="#d5762a" stroke-width="2" fill="#eba09c">
 <path d="M1226,1256.3V1248.5M1226,1177.4V1137.5M1219,1256.3h14M1219,1137.5h14" fill="none"/>
 <rect x="1214" y="1177.4" width="24" height="71.1"/><path d="M1214,1192h24"/>
</g>
<g class="br"><path d="M1166,1088V1080H1221V1088"/></g>
<text x="1192" y="1080" class="s14" text-anchor="middle">*</text>
<path class="ax" d="M1129,1071V1268H1268"/>
<path class="ax" d="M1123,1073H1129M1123,1122H1129M1123,1171H1129M1123,1219H1129M1123,1268H1129M1171,1268V1274M1226,1268V1274"/>
<g class="s15" text-anchor="end"><text x="1119" y="1078">200</text><text x="1119" y="1127">150</text><text x="1119" y="1176">100</text><text x="1119" y="1224">50</text><text x="1119" y="1273">0</text></g>
<g class="s15" text-anchor="middle"><text x="1171" y="1291">Fresh</text><text x="1226" y="1291">PFG</text></g>
<text transform="translate(1083,1172) rotate(-90)" class="s15" text-anchor="middle">Immobility time (s)</text>
</svg>
</body></html>
